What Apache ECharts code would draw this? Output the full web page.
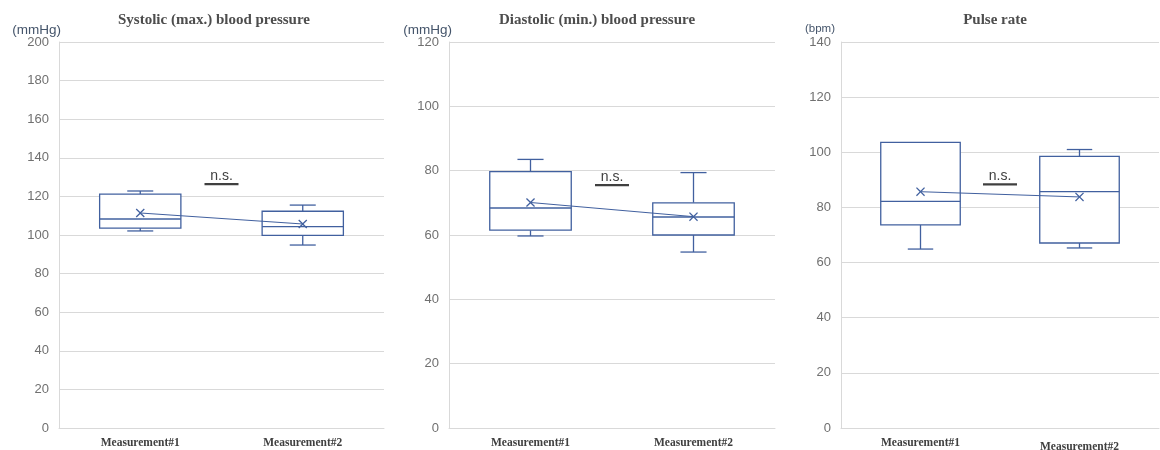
<!DOCTYPE html>
<html>
<head>
<meta charset="utf-8">
<script src="https://cdn.jsdelivr.net/npm/echarts@6/dist/echarts.min.js"></script>
<style>html,body{margin:0;padding:0;background:#fff}#c{width:1160px;height:450px}</style>
</head>
<body>
<div id="c"></div>
<script>
// ---- data ----
const categories = ['Measurement#1', 'Measurement#2'];
const titles = ['Systolic (max.) blood pressure', 'Diastolic (min.) blood pressure', 'Pulse rate'];
const units = ['(mmHg)', '(mmHg)', '(bpm)'];
// [min, Q1, median, Q3, max]
const sysBox = [[102.1, 103.6, 108.3, 121.2, 122.8], [94.8, 99.8, 104.3, 112.3, 115.5]];
const sysMean = [111.4, 105.7];
const diaBox = [[59.7, 61.5, 68.4, 79.7, 83.5], [54.7, 60.0, 65.6, 70.0, 79.4]];
const diaMean = [70.1, 65.7];
const pulseBox = [[64.9, 73.7, 82.2, 103.6, 103.6], [65.3, 67.1, 85.7, 98.5, 101.0]];
const pulseMean = [85.7, 83.8];
const nsLevel = [128, 76.5, 89.5];
const nsText = 'n.s.';
const yMax = [200, 120, 140];
const yInterval = [20, 20, 20];

// ---- styling ----
const C = '#41609f';
const GRID = '#d9d9d9';
const grids = [
  {left: 59, top: 42, width: 325, height: 386, outerBoundsMode: 'none', containLabel: false},
  {left: 449, top: 42, width: 326, height: 386, outerBoundsMode: 'none', containLabel: false},
  {left: 841, top: 42, width: 318, height: 386, outerBoundsMode: 'none', containLabel: false}
];
const titleX = [214, 597, 995];
const unitPos = [[61, 30, 13.5], [452, 30, 13.5], [835, 29, 11.5]];
const boxes = [sysBox, diaBox, pulseBox];
const means = [sysMean, diaMean, pulseMean];

function boxRender(params, api) {
  const idx = api.value(0);
  const lo = api.coord([idx, api.value(1)]);
  const q1 = api.coord([idx, api.value(2)]);
  const med = api.coord([idx, api.value(3)]);
  const q3 = api.coord([idx, api.value(4)]);
  const hi = api.coord([idx, api.value(5)]);
  const band = api.size([1, 0])[0];
  const hw = band * 0.25, cw = band * 0.08;
  const x = lo[0];
  const ls = {stroke: C, lineWidth: 1.3, fill: null};
  const children = [];
  if (Math.abs(hi[1] - q3[1]) > 0.5) {
    children.push({type: 'line', shape: {x1: x, y1: q3[1], x2: x, y2: hi[1]}, style: ls});
    children.push({type: 'line', shape: {x1: x - cw, y1: hi[1], x2: x + cw, y2: hi[1]}, style: ls});
  }
  if (Math.abs(lo[1] - q1[1]) > 0.5) {
    children.push({type: 'line', shape: {x1: x, y1: q1[1], x2: x, y2: lo[1]}, style: ls});
    children.push({type: 'line', shape: {x1: x - cw, y1: lo[1], x2: x + cw, y2: lo[1]}, style: ls});
  }
  children.push({type: 'rect', shape: {x: x - hw, y: q3[1], width: 2 * hw, height: q1[1] - q3[1]},
    style: {stroke: C, lineWidth: 1.3, fill: '#fff'}});
  children.push({type: 'line', shape: {x1: x - hw, y1: med[1], x2: x + hw, y2: med[1]}, style: ls});
  return {type: 'group', children: children};
}

function nsRender(params, api) {
  const v = api.value(1);
  const p0 = api.coord([0, v]);
  const p1 = api.coord([1, v]);
  const cx = (p0[0] + p1[0]) / 2;
  const y = p0[1];
  return {type: 'group', children: [
    {type: 'text', x: cx, y: y + 2, style: {text: nsText, fill: '#404040', align: 'center', verticalAlign: 'bottom',
      font: '14px "Liberation Sans", Arial, sans-serif'}},
    {type: 'rect', shape: {x: cx - 17, y: y + 2, width: 34, height: 2.2}, style: {fill: '#404040'}}
  ]};
}

const xAxis = [], yAxis = [], series = [], graphic = [];
for (let i = 0; i < 3; i++) {
  const xd = categories.slice();
  if (i === 2) xd[1] = {value: categories[1], textStyle: {padding: [4, 0, 0, 0]}};
  xAxis.push({
    type: 'category', gridIndex: i, data: xd, boundaryGap: true,
    axisLine: {show: true, lineStyle: {color: GRID, width: 1}},
    axisTick: {show: false},
    axisLabel: {margin: 9, color: '#404040', fontFamily: '"Liberation Serif", "Times New Roman", serif',
      fontWeight: 'bold', fontSize: 11.5}
  });
  yAxis.push({
    type: 'value', gridIndex: i, min: 0, max: yMax[i], interval: yInterval[i],
    axisLine: {show: true, lineStyle: {color: GRID, width: 1}},
    axisTick: {show: false},
    splitLine: {show: true, lineStyle: {color: GRID, width: 1}},
    axisLabel: {margin: 10, color: '#707070', fontFamily: '"Liberation Sans", Arial, sans-serif', fontSize: 13}
  });
  series.push({
    type: 'custom', xAxisIndex: i, yAxisIndex: i, renderItem: boxRender, z: 2,
    encode: {x: 0, y: [1, 2, 3, 4, 5]},
    data: boxes[i].map((b, k) => [k].concat(b))
  });
  series.push({
    type: 'line', xAxisIndex: i, yAxisIndex: i, data: means[i], z: 3,
    symbol: 'path://M0,1L1,0L5,4L9,0L10,1L6,5L10,9L9,10L5,6L1,10L0,9L4,5Z', symbolSize: 9,
    itemStyle: {color: C}, lineStyle: {color: C, width: 1}, silent: true
  });
  series.push({
    type: 'custom', xAxisIndex: i, yAxisIndex: i, renderItem: nsRender, z: 4,
    encode: {x: 0, y: 1}, data: [[0, nsLevel[i]]]
  });
  graphic.push({type: 'text', x: titleX[i], y: 20, style: {text: titles[i], align: 'center', verticalAlign: 'middle',
    fill: '#4d4d4d', font: 'bold 15px "Liberation Serif", "Times New Roman", serif'}});
  graphic.push({type: 'text', x: unitPos[i][0], y: unitPos[i][1], style: {text: units[i], align: 'right',
    verticalAlign: 'middle', fill: '#44546a', font: unitPos[i][2] + 'px "Liberation Sans", Arial, sans-serif'}});
}

const chart = echarts.init(document.getElementById('c'), null, {renderer: 'canvas'});
chart.setOption({
  animation: false,
  backgroundColor: '#fff',
  grid: grids,
  xAxis: xAxis,
  yAxis: yAxis,
  series: series,
  graphic: graphic
});
</script>
</body>
</html>
